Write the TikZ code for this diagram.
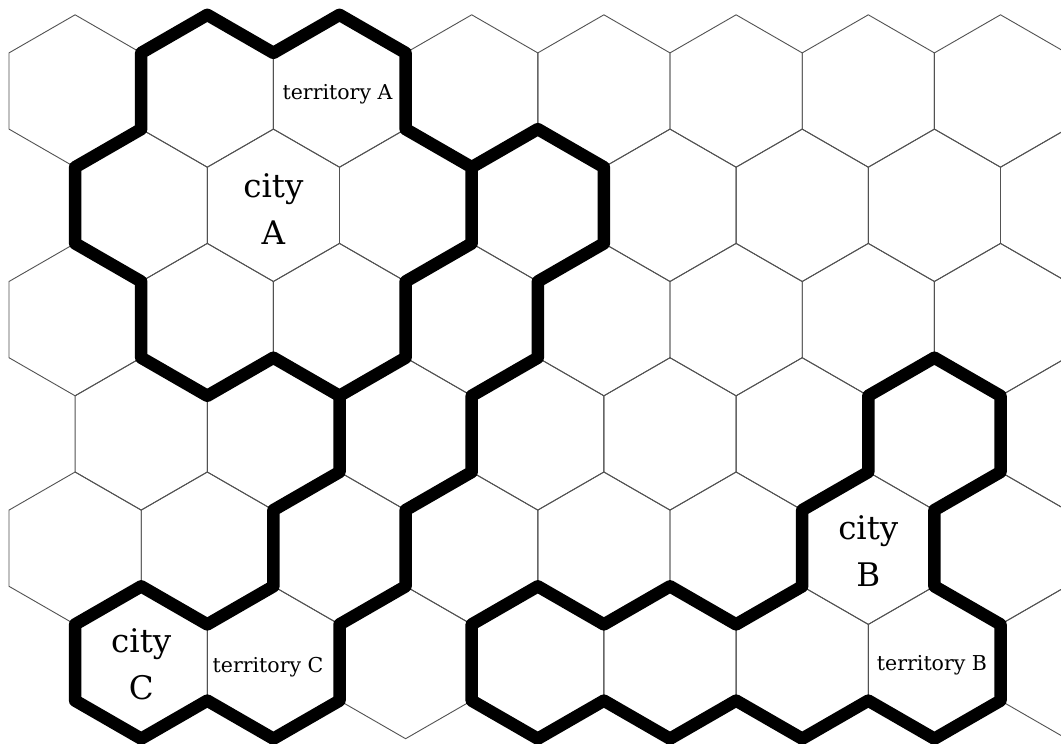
\documentclass[tikz,border=0pt]{standalone}
\usepackage{fontspec}
\setmainfont{DejaVu Serif}
\begin{document}
\begin{tikzpicture}[x=1pt,y=-1pt,
  hexline/.style={draw=black!68, line width=0.9pt},
  border/.style={draw=black, line width=12.5pt, line join=round, line cap=round},
  bigtxt/.style={align=center, font=\fontsize{32.5}{47}\selectfont, inner sep=0pt},
  smalltxt/.style={font=\fontsize{20.5}{25}\selectfont, inner sep=0pt}]
\useasboundingbox (0,0) rectangle (1061,744);
\fill[white] (0,0) rectangle (1061,744);
% lattice of hexagon vertices
\foreach \i in {0,...,16} {
  \foreach \j in {0,...,13} {
    \pgfmathsetmacro\yy{14.8+114.3*floor(\j/2)+38.1*mod(\j,2)}
    \coordinate (v\i-\j) at ({9+66.1*\i},\yy);
  }
}
\begin{scope}
\clip (0,0) rectangle (1061,744);
\foreach \r in {1,...,6} {
  \pgfmathsetmacro\cy{91+114.3*(\r-1)}
  \pgfmathsetmacro\off{mod(\r,2)==1 ? 1 : 2}
  \foreach \k in {0,...,7} {
    \pgfmathsetmacro\cx{9+66.1*(\off+2*\k)}
    \draw[hexline] (\cx,\cy-76.2) -- ++(66.1,38.1) -- ++(0,76.2) -- ++(-66.1,38.1)
      -- ++(-66.1,-38.1) -- ++(0,-76.2) -- cycle;
  }
}
% territory A
\draw[border] (v2-1) -- (v3-0) -- (v4-1) -- (v5-0) -- (v6-1) -- (v6-2) -- (v7-3) -- (v7-4)
  -- (v6-5) -- (v6-6) -- (v5-7) -- (v4-6) -- (v3-7) -- (v2-6) -- (v2-5) -- (v1-4)
  -- (v1-3) -- (v2-2) -- cycle;
% territory C
\draw[border] (v5-7) -- (v5-8) -- (v4-9) -- (v4-10) -- (v3-11) -- (v2-10) -- (v1-11)
  -- (v1-12) -- (v2-13) -- (v3-12) -- (v4-13) -- (v5-12) -- (v5-11) -- (v6-10)
  -- (v6-9) -- (v7-8) -- (v7-7) -- (v8-6) -- (v8-5) -- (v9-4) -- (v9-3) -- (v8-2) -- (v7-3);
% territory B
\draw[border] (v13-7) -- (v14-6) -- (v15-7) -- (v15-8) -- (v14-9) -- (v14-10) -- (v15-11)
  -- (v15-12) -- (v14-13) -- (v13-12) -- (v12-13) -- (v11-12) -- (v10-13) -- (v9-12)
  -- (v8-13) -- (v7-12) -- (v7-11) -- (v8-10) -- (v9-11) -- (v10-10) -- (v11-11)
  -- (v12-10) -- (v12-9) -- (v13-8) -- cycle;
\end{scope}
% labels
\node[bigtxt] (cityA) at (273.4,209) {city\\A};
\node[smalltxt] (terrA) at (337.5,94) {territory A};
\node[bigtxt] (cityC) at (141.2,664) {city\\C};
\node[smalltxt] (terrC) at (268,667) {territory C};
\node[bigtxt] (cityB) at (868.3,551) {city\\B};
\node[smalltxt] (terrB) at (932,665) {territory B};
\end{tikzpicture}
\end{document}
